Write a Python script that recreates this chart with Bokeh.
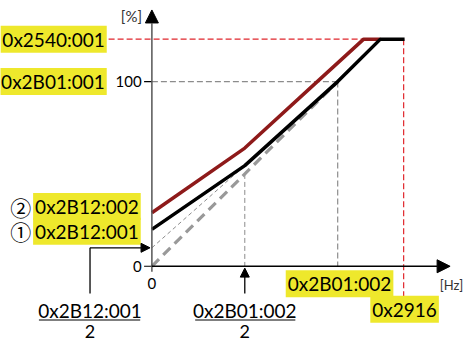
from bokeh.plotting import figure
from bokeh.models import Range1d, Label, Arrow, NormalHead
from bokeh.embed import file_html
from bokeh.resources import INLINE

# ---- data (x: % of rated frequency, y: % of rated voltage) ----
freq_boost1 = [0, 50, 100, 123, 136]
volt_boost1 = [20, 54.5, 100, 123, 123]
freq_boost2 = [0, 50, 89, 114, 123]
volt_boost2 = [29, 64, 100, 123, 123]
freq_linear = [0, 100]
volt_linear = [0, 100]
freq_half = [0, 50]
volt_half = [10, 54.5]
v_max = 123        # 0x2540:001
f_max = 135.5      # 0x2916
f_rated = 100      # 0x2B01:002
v_rated = 100      # 0x2B01:001
f_knee = 50        # 0x2B01:002 / 2
boost1 = 20        # 0x2B12:001
boost2 = 29        # 0x2B12:002
y_ticks = [0, 100]
y_tick_labels = ["0", "100"]
x_tick_labels = ["0"]
param_vmax = "0x2540:001"
param_vrated = "0x2B01:001"
param_frated = "0x2B01:002"
param_fmax = "0x2916"
param_boost1 = "0x2B12:001"
param_boost2 = "0x2B12:002"

FONT = "Lato"
YELLOW = "#eee82c"
GRAY = "#8c8c8c"
RED_DASH = "#e0262c"
DARK_RED = "#8e1a1a"
FS_BIG = "19px"
FS_SMALL = "15px"

p = figure(width=464, height=341,
           x_range=Range1d(-81.48, 168.25), y_range=Range1d(-40.74, 143.92),
           output_backend="svg", toolbar_location=None, min_border=0,
           x_axis_type=None, y_axis_type=None)
p.grid.visible = False
p.outline_line_color = None
p.background_fill_color = "white"

# guide lines
p.line([-23.3, f_max], [v_max, v_max], line_color=RED_DASH, line_width=1.2, line_dash="6 3")
p.line([f_max, f_max], [v_max, -17.5], line_color=RED_DASH, line_width=1.2, line_dash="6 3")
p.line([0, f_rated], [v_rated, v_rated], line_color=GRAY, line_width=1.2, line_dash="6 3")
p.line([f_rated, f_rated], [v_rated, 0], line_color=GRAY, line_width=1.2, line_dash="6 3")
p.line([f_knee, f_knee], [f_knee, 0], line_color=GRAY, line_width=1, line_dash="5 3")
p.line(freq_half, volt_half, line_color=GRAY, line_width=1, line_dash="4 3")
p.line(freq_linear, volt_linear, line_color="#999999", line_width=3.2, line_dash="10 6")

# characteristic curves
p.line(freq_boost2, volt_boost2, line_color=DARK_RED, line_width=3.5)
p.line(freq_boost1, volt_boost1, line_color="black", line_width=3.5)

# axes
p.add_layout(Arrow(end=NormalHead(size=13, fill_color="black", line_color="black"),
                   x_start=0, y_start=-3, x_end=0, y_end=138.8,
                   line_color="#555555", line_width=1.5))
p.add_layout(Arrow(end=NormalHead(size=13, fill_color="black", line_color="black"),
                   x_start=0, y_start=0, x_end=160.5, y_end=0,
                   line_color="black", line_width=1.5))
p.segment(x0=[-4.2] * len(y_ticks), y0=y_ticks, x1=[0] * len(y_ticks), y1=y_ticks,
          line_color="black", line_width=1.2)
for yt, lab in zip(y_ticks, y_tick_labels):
    p.add_layout(Label(x=-5.5, y=yt, text=lab, text_align="right", text_baseline="middle",
                       text_font=FONT, text_font_size=FS_SMALL, text_color="black"))
p.add_layout(Label(x=0, y=-9.5, text=x_tick_labels[0], text_align="center", text_baseline="middle",
                   text_font=FONT, text_font_size=FS_SMALL, text_color="black"))
p.add_layout(Label(x=-11, y=135.4, text="[%]", text_align="center", text_baseline="middle",
                   text_font=FONT, text_font_size=FS_SMALL, text_color="#333333"))
p.add_layout(Label(x=167.5, y=-10, text="[Hz]", text_align="right", text_baseline="middle",
                   text_font=FONT, text_font_size="13px", text_color="#333333"))

# highlighted parameter labels
def ylabel(x, y, text, align):
    p.add_layout(Label(x=x, y=y, text=text, text_align=align, text_baseline="middle",
                       text_font=FONT, text_font_size=FS_BIG, text_color="black",
                       background_fill_color=YELLOW, padding=2))

ylabel(-24.3, v_max, param_vmax, "right")
ylabel(-24.3, v_rated, param_vrated, "right")
ylabel(-6.0, 32.3, param_boost2, "right")
ylabel(-6.0, 19, param_boost1, "right")
ylabel(f_rated + 1, -9.5, param_frated, "center")
ylabel(f_max + 0.5, -23.3, param_fmax, "center")

for yy, sym in [(32.3, "\u2461"), (19, "\u2460")]:
    p.add_layout(Label(x=-70.6, y=yy, text=sym, text_align="center", text_baseline="middle",
                       text_font="Noto Sans CJK JP", text_font_size="21px", text_color="black"))

# pointer arrows and fractions
p.line([-33.3, -33.3], [-14.8, boost1 / 2], line_color="black", line_width=1.3)
p.add_layout(Arrow(end=NormalHead(size=9, fill_color="black", line_color="black"),
                   x_start=-33.3, y_start=boost1 / 2, x_end=-1, y_end=boost1 / 2,
                   line_color="black", line_width=1.3))
p.add_layout(Arrow(end=NormalHead(size=9, fill_color="black", line_color="black"),
                   x_start=f_knee, y_start=-14.8, x_end=f_knee, y_end=-1,
                   line_color="black", line_width=1.3))

for cx, x0, x1, txt in [(-33.3, -60.8, -6.3, param_boost1), (f_knee, 23.3, 77.2, param_frated)]:
    p.add_layout(Label(x=cx, y=-23.8, text=txt, text_align="center", text_baseline="middle",
                       text_font=FONT, text_font_size=FS_BIG, text_color="black"))
    p.line([x0, x1], [-29.1, -29.1], line_color="black", line_width=1.2)
    p.add_layout(Label(x=cx, y=-35.2, text="2", text_align="center", text_baseline="middle",
                       text_font=FONT, text_font_size="18px", text_color="black"))

open("out.html", "w").write(file_html(p, INLINE))
